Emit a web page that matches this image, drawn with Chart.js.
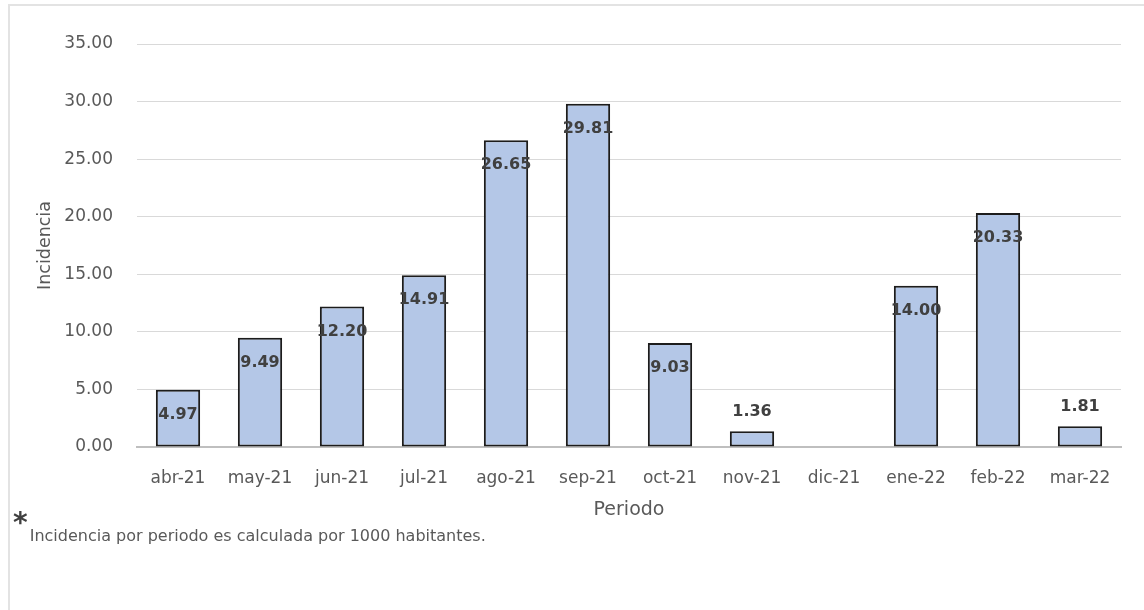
<!DOCTYPE html>
<html lang="es">
<head>
<meta charset="utf-8">
<title>Incidencia por periodo</title>
<script src="https://cdn.jsdelivr.net/npm/chart.js@4"></script>
<style>
  html, body { margin: 0; padding: 0; background: #ffffff; }
  #wrap { position: relative; width: 1144px; height: 610px; overflow: hidden; }
  #frame { position: absolute; left: 8px; top: 4px; width: 1140px; height: 620px;
           border: 2px solid #e3e3e3; box-sizing: border-box; }
  canvas { position: absolute; left: 0; top: 0; }
  #nota { position: absolute; left: 13px; top: 510px; font-family: "DejaVu Sans", sans-serif;
          color: #595959; white-space: nowrap; }
  #nota .ast { font-size: 28px; font-weight: bold; color: #404040; vertical-align: top; line-height: 26px; }
  #nota .txt { font-size: 16px; position: relative; top: 16px; left: 2px; }
</style>
</head>
<body>
<div id="wrap">
  <div id="frame"></div>
  <canvas id="c" width="1144" height="610"></canvas>
  <div id="nota"><span class="ast">*</span><span class="txt">Incidencia por periodo es calculada por 1000 habitantes.</span></div>
</div>
<script>
// Periods (months) and incidence per 1000 inhabitants
const periodos = ["abr-21", "may-21", "jun-21", "jul-21", "ago-21", "sep-21",
                  "oct-21", "nov-21", "dic-21", "ene-22", "feb-22", "mar-22"];
const incidencia = [4.97, 9.49, 12.20, 14.91, 26.65, 29.81,
                    9.03, 1.36, null, 14.00, 20.33, 1.81];
const yTicks = [0, 5, 10, 15, 20, 25, 30, 35];

const FONT = "DejaVu Sans";

// Value labels: inside near the top for tall bars, above for short ones
const etiquetas = {
  id: "etiquetas",
  afterDatasetsDraw(chart) {
    const ctx = chart.ctx;
    const meta = chart.getDatasetMeta(0);
    ctx.save();
    ctx.font = "bold 16px '" + FONT + "'";
    ctx.fillStyle = "#404040";
    ctx.textAlign = "center";
    ctx.textBaseline = "middle";
    meta.data.forEach((bar, i) => {
      const v = incidencia[i];
      if (v === null || v === undefined) return;
      const h = bar.base - bar.y;
      const y = h > 40 ? bar.y + 25 : bar.y - 19;
      ctx.fillText(v.toFixed(2), bar.x, y);
    });
    ctx.restore();
  }
};

new Chart(document.getElementById("c"), {
  type: "bar",
  data: {
    labels: periodos,
    datasets: [{
      data: incidencia,
      backgroundColor: "#b4c7e7",
      borderColor: "#1c1c1c",
      borderWidth: 2,
      borderSkipped: false,
      categoryPercentage: 1,
      barPercentage: 0.54
    }]
  },
  options: {
    responsive: false,
    animation: false,
    layout: { padding: { left: 31, top: 44, right: 23, bottom: 85 } },
    plugins: { legend: { display: false }, tooltip: { enabled: false } },
    scales: {
      x: {
        grid: { display: false, drawTicks: false },
        border: { display: true, color: "#bfbfbf", width: 2 },
        ticks: { color: "#595959", font: { family: FONT, size: 17 }, padding: 21, maxRotation: 0 },
        title: { display: true, text: "Periodo", color: "#595959", font: { family: FONT, size: 19 } },
        afterFit(s) { s.height = 78; }
      },
      y: {
        min: 0, max: 35,
        afterBuildTicks(s) { s.ticks = yTicks.map(v => ({ value: v })); },
        grid: { color: "#d9d9d9", lineWidth: 1, drawTicks: false },
        border: { display: false },
        ticks: { color: "#595959", font: { family: FONT, size: 17 }, padding: 24,
                 callback: v => Number(v).toFixed(2) },
        title: { display: true, text: "Incidencia", color: "#595959", font: { family: FONT, size: 17.5 } },
        afterFit(s) { s.width = 106; }
      }
    }
  },
  plugins: [etiquetas]
});
</script>
</body>
</html>
